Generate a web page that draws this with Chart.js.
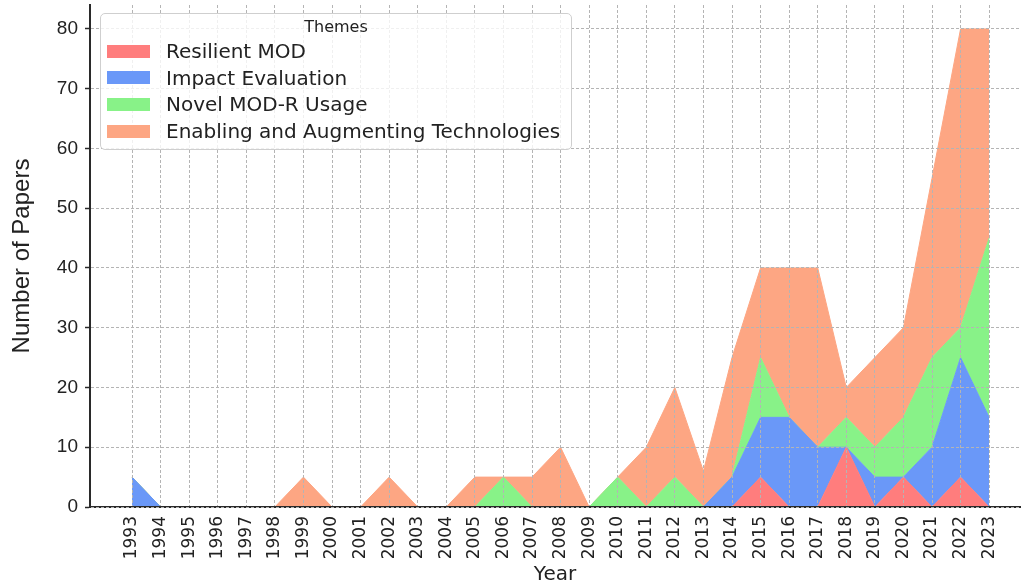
<!DOCTYPE html>
<html>
<head>
<meta charset="utf-8">
<script src="https://cdn.jsdelivr.net/npm/chart.js@4"></script>
<style>
	body { margin: 0; background: #fff; }
	#wrap { position: relative; width: 1021px; height: 588px; }
	#legendBox {
		position: absolute; left: 100px; top: 13px; width: 470px; height: 135px;
		background: rgba(255, 255, 255, 0.8); border: 1px solid #cfcfcf; border-radius: 5px;
		font-family: "DejaVu Sans", sans-serif; color: #222;
	}
	#legendBox .title { position: absolute; left: 0; right: 0; top: 3px; text-align: center; font-size: 16px; }
	#legendBox .row { position: absolute; left: 6px; height: 26px; display: flex; align-items: center; font-size: 20px; }
	#legendBox .sw { width: 43px; height: 13px; margin-right: 16px; }
</style>
</head>
<body>
<div id="wrap">
	<canvas id="areaChart"></canvas>
	<div id="legendBox"><div class="title">Themes</div></div>
</div>
<script>
const years = [1993, 1994, 1995, 1996, 1997, 1998, 1999, 2000, 2001, 2002, 2003, 2004, 2005, 2006, 2007, 2008,
	2009, 2010, 2011, 2012, 2013, 2014, 2015, 2016, 2017, 2018, 2019, 2020, 2021, 2022, 2023];

const themeNames = ['Resilient MOD', 'Impact Evaluation', 'Novel MOD-R Usage', 'Enabling and Augmenting Technologies'];
const themeColors = ['#ff7d7d', '#6a98f8', '#88f288', '#fda683'];

const resilientMod     = [0, 0, 0, 0, 0, 0, 0, 0, 0, 0, 0, 0, 0, 0, 0, 0, 0, 0, 0, 0, 0, 0, 5, 0, 0, 10, 0, 5, 0, 5, 0];
const impactEvaluation = [5, 0, 0, 0, 0, 0, 0, 0, 0, 0, 0, 0, 0, 0, 0, 0, 0, 0, 0, 0, 0, 5, 10, 15, 10, 0, 5, 0, 10, 20, 15];
const novelUsage       = [0, 0, 0, 0, 0, 0, 0, 0, 0, 0, 0, 0, 0, 5, 0, 0, 0, 5, 0, 5, 0, 0, 10, 0, 0, 5, 5, 10, 15, 5, 30];
const enablingTech     = [0, 0, 0, 0, 0, 0, 5, 0, 0, 5, 0, 0, 5, 0, 5, 10, 0, 0, 10, 15, 6, 20, 15, 25, 30, 5, 15, 15, 30, 50, 35];

const series = [resilientMod, impactEvaluation, novelUsage, enablingTech];

const yTicks = [0, 10, 20, 30, 40, 50, 60, 70, 80];

function renderChart() {
	const ctx = document.getElementById('areaChart').getContext('2d');

	const datasets = series.map((values, i) => ({
		label: themeNames[i],
		data: values.map((v, j) => ({ x: years[j], y: v })),
		backgroundColor: themeColors[i],
		borderColor: themeColors[i],
		borderWidth: 1,
		pointRadius: 0,
		tension: 0,
		fill: i === 0 ? 'origin' : '-1',
	}));

	// keep the plot box fixed, as in the original figure
	const noPad = scale => {
		scale.paddingTop = 0;
		scale.paddingBottom = 0;
		scale.paddingLeft = 0;
		scale.paddingRight = 0;
	};

	new Chart(ctx, {
		type: 'line',
		data: { datasets: datasets },
		options: {
			responsive: true,
			maintainAspectRatio: false,
			animation: false,
			layout: { padding: { top: 5, right: 1, left: 0, bottom: 0 } },
			plugins: { legend: { display: false }, tooltip: { enabled: false } },
			scales: {
				x: {
					type: 'linear',
					min: 1991.53,
					max: 2024.08,
					afterBuildTicks: scale => { scale.ticks = years.map(v => ({ value: v })); },
					afterFit: scale => { scale.height = 81; noPad(scale); },
					grid: { color: '#b4b4b4', lineWidth: 1, drawTicks: false, z: 1 },
					border: { display: true, color: '#2a2a2a', width: 2, dash: [3, 2], z: 1 },
					ticks: {
						autoSkip: false,
						maxRotation: 90,
						minRotation: 90,
						padding: 9,
						color: '#222',
						font: { family: 'DejaVu Sans', size: 17 },
						callback: v => String(v),
					},
					title: {
						display: true,
						text: 'Year',
						color: '#222',
						font: { family: 'DejaVu Sans', size: 20 },
						padding: { top: 0, bottom: 1 },
					}
				},
				y: {
					stacked: true,
					min: 0,
					max: 84,
					afterBuildTicks: scale => { scale.ticks = yTicks.map(v => ({ value: v })); },
					afterFit: scale => { scale.width = 90; noPad(scale); },
					grid: { color: '#b4b4b4', lineWidth: 1, tickLength: 5, tickColor: '#2a2a2a', tickBorderDash: [], tickWidth: 1.5, z: 1 },
					border: { display: true, color: '#2a2a2a', width: 2, dash: [3, 2], z: 1 },
					ticks: {
						padding: 7,
						color: '#222',
						font: { family: 'Liberation Sans', size: 19 },
					},
					title: {
						display: true,
						text: 'Number of Papers',
						color: '#222',
						font: { family: 'Liberation Sans', size: 24 },
						padding: { top: 8, bottom: 0 },
					}
				}
			}
		}
	});
}

function renderLegend() {
	const box = document.getElementById('legendBox');
	themeNames.forEach((name, i) => {
		const row = document.createElement('div');
		row.className = 'row';
		row.style.top = (24 + i * 26.7) + 'px';
		row.innerHTML = `<span class="sw" style="background:${themeColors[i]}"></span><span>${name}</span>`;
		box.appendChild(row);
	});
}

renderChart();
renderLegend();
</script>
</body>
</html>
